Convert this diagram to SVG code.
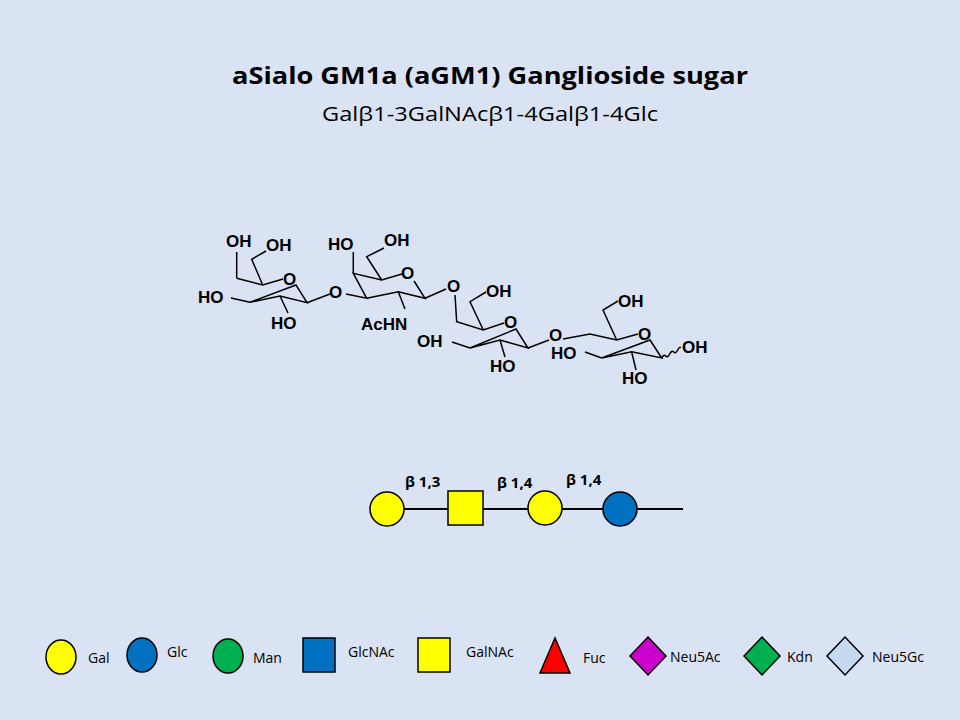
<svg xmlns="http://www.w3.org/2000/svg" width="960" height="720" viewBox="0 0 960 720">
<style>
.b{stroke:#000;stroke-width:1.5;fill:none}
.a{font-family:"Liberation Sans",Arial,sans-serif;font-weight:bold;font-size:17px;fill:#000}
.s{stroke:#000;stroke-width:2}
.lt{font-family:"Open Sans","Liberation Sans",sans-serif;font-size:14px;fill:#000}
.bl{font-family:"Open Sans","Liberation Sans",sans-serif;font-weight:bold;font-size:15px;fill:#000}
</style>
<rect width="960" height="720" fill="#dae3f3"/>
<g id="title">
<text x="232" y="84" textLength="516" lengthAdjust="spacingAndGlyphs" font-family="Open Sans,Liberation Sans,sans-serif" font-weight="bold" font-size="24">aSialo GM1a (aGM1) Ganglioside sugar</text>
<text x="322" y="121" textLength="336" lengthAdjust="spacingAndGlyphs" font-family="Open Sans,Liberation Sans,sans-serif" font-size="20">Galβ1-3GalNAcβ1-4Galβ1-4Glc</text>
</g>
<g id="structure">
<path class="b" d="M236.7,278.3 L262.7,285 L283,279 M296,285 L307,302.7 L280,296 L250,302.3 Z"/>
<path class="b" d="M236.7,278.3 L236.7,252 M262.7,285 L251.7,259.3 L266,251 M250,302.3 L231,298 M280,296 L288,313 M307,302.7 L330,294"/>
<text class="a" x="226" y="247">OH</text><text class="a" x="266" y="251">OH</text>
<text class="a" x="283" y="285">O</text><text class="a" x="198" y="303">HO</text>
<text class="a" x="271" y="329">HO</text><text class="a" x="329" y="298">O</text>
<path class="b" d="M346,294 L366.7,298.3 L353.3,273.3 L381.7,280 L402,274 M414,281 L425,298.3 L398.3,291.7 L366.7,298.3"/>
<path class="b" d="M353.3,273.3 L353.3,252 M381.7,280 L366.7,256.7 L384,248 M398.3,291.7 L405,309 M425,298.3 L446,289"/>
<text class="a" x="328" y="250">HO</text><text class="a" x="384" y="246">OH</text>
<text class="a" x="401" y="279">O</text><text class="a" x="361" y="330">AcHN</text>
<text class="a" x="447" y="292">O</text>
<path class="b" d="M455,295 L456.7,321.7 L483.3,330 L504,323 M516,329 L528,348 L500,340 L470,348 Z"/>
<path class="b" d="M470,348 L452,342 M500,340 L505,357 M483.3,330 L470,301.7 L486,292 M528,348 L549,340"/>
<text class="a" x="417" y="347">OH</text><text class="a" x="486" y="297">OH</text>
<text class="a" x="504" y="328">O</text><text class="a" x="490" y="372">HO</text>
<text class="a" x="549" y="341">O</text>
<path class="b" d="M563,339 L590,334 L616.7,340 L638,334 M650,340 L661.7,358 L631.7,351.7 L601.7,358 Z"/>
<path class="b" d="M601.7,358 L585,352 M631.7,352 L636,370 M616.7,340 L603,310 L618,301"/>
<path class="b" stroke-width="1" d="M661.7,358 q2,-4 4,-2 t4,-2 t4,-2 t4,-2 t3,-2"/>
<text class="a" x="618" y="307">OH</text><text class="a" x="638" y="340">O</text>
<text class="a" x="551" y="359">HO</text><text class="a" x="622" y="384">HO</text>
<text class="a" x="682" y="353">OH</text>
</g>
<g id="connectors">
<line class="s" x1="387" y1="509" x2="683" y2="509"/>
</g>
<g id="gal1"><circle cx="387" cy="509" r="17" fill="#ffff00" stroke="#000" stroke-width="1.5"/></g>
<g id="galnac"><rect x="448" y="491" width="35" height="34" fill="#ffff00" stroke="#000" stroke-width="1.5"/></g>
<g id="gal2"><circle cx="545" cy="508" r="17" fill="#ffff00" stroke="#000" stroke-width="1.5"/></g>
<g id="glc"><circle cx="620" cy="509" r="17" fill="#0070c0" stroke="#000" stroke-width="1.5"/></g>
<g id="labels">
<text class="bl" x="405" y="487">β 1,3</text>
<text class="bl" x="497" y="488">β 1,4</text>
<text class="bl" x="566" y="485">β 1,4</text>
</g>
<g id="legend" stroke="#000" stroke-width="1.5">
<ellipse cx="61" cy="657" rx="15" ry="17" fill="#ffff00"/>
<ellipse cx="142" cy="655" rx="15" ry="17" fill="#0070c0"/>
<ellipse cx="228" cy="656" rx="15" ry="17" fill="#00b050"/>
<rect x="303" y="638" width="32" height="34" fill="#0070c0"/>
<rect x="418" y="638" width="32" height="34" fill="#ffff00"/>
<polygon points="555,638 540,673 570,673" fill="#ff0000"/>
<polygon points="648,637 666,656 648,675 630,656" fill="#cc00cc"/>
<polygon points="762,637 780,656 762,675 744,656" fill="#00b050"/>
<polygon points="845,637 863,656 845,675 827,656" fill="#c5d9f1"/>
</g>
<g id="legend-text">
<text class="lt" x="88" y="663">Gal</text>
<text class="lt" x="167" y="657">Glc</text>
<text class="lt" x="253" y="663">Man</text>
<text class="lt" x="348" y="657">GlcNAc</text>
<text class="lt" x="466" y="657">GalNAc</text>
<text class="lt" x="583" y="663">Fuc</text>
<text class="lt" x="670" y="662">Neu5Ac</text>
<text class="lt" x="787" y="662">Kdn</text>
<text class="lt" x="872" y="662">Neu5Gc</text>
</g>
</svg>
